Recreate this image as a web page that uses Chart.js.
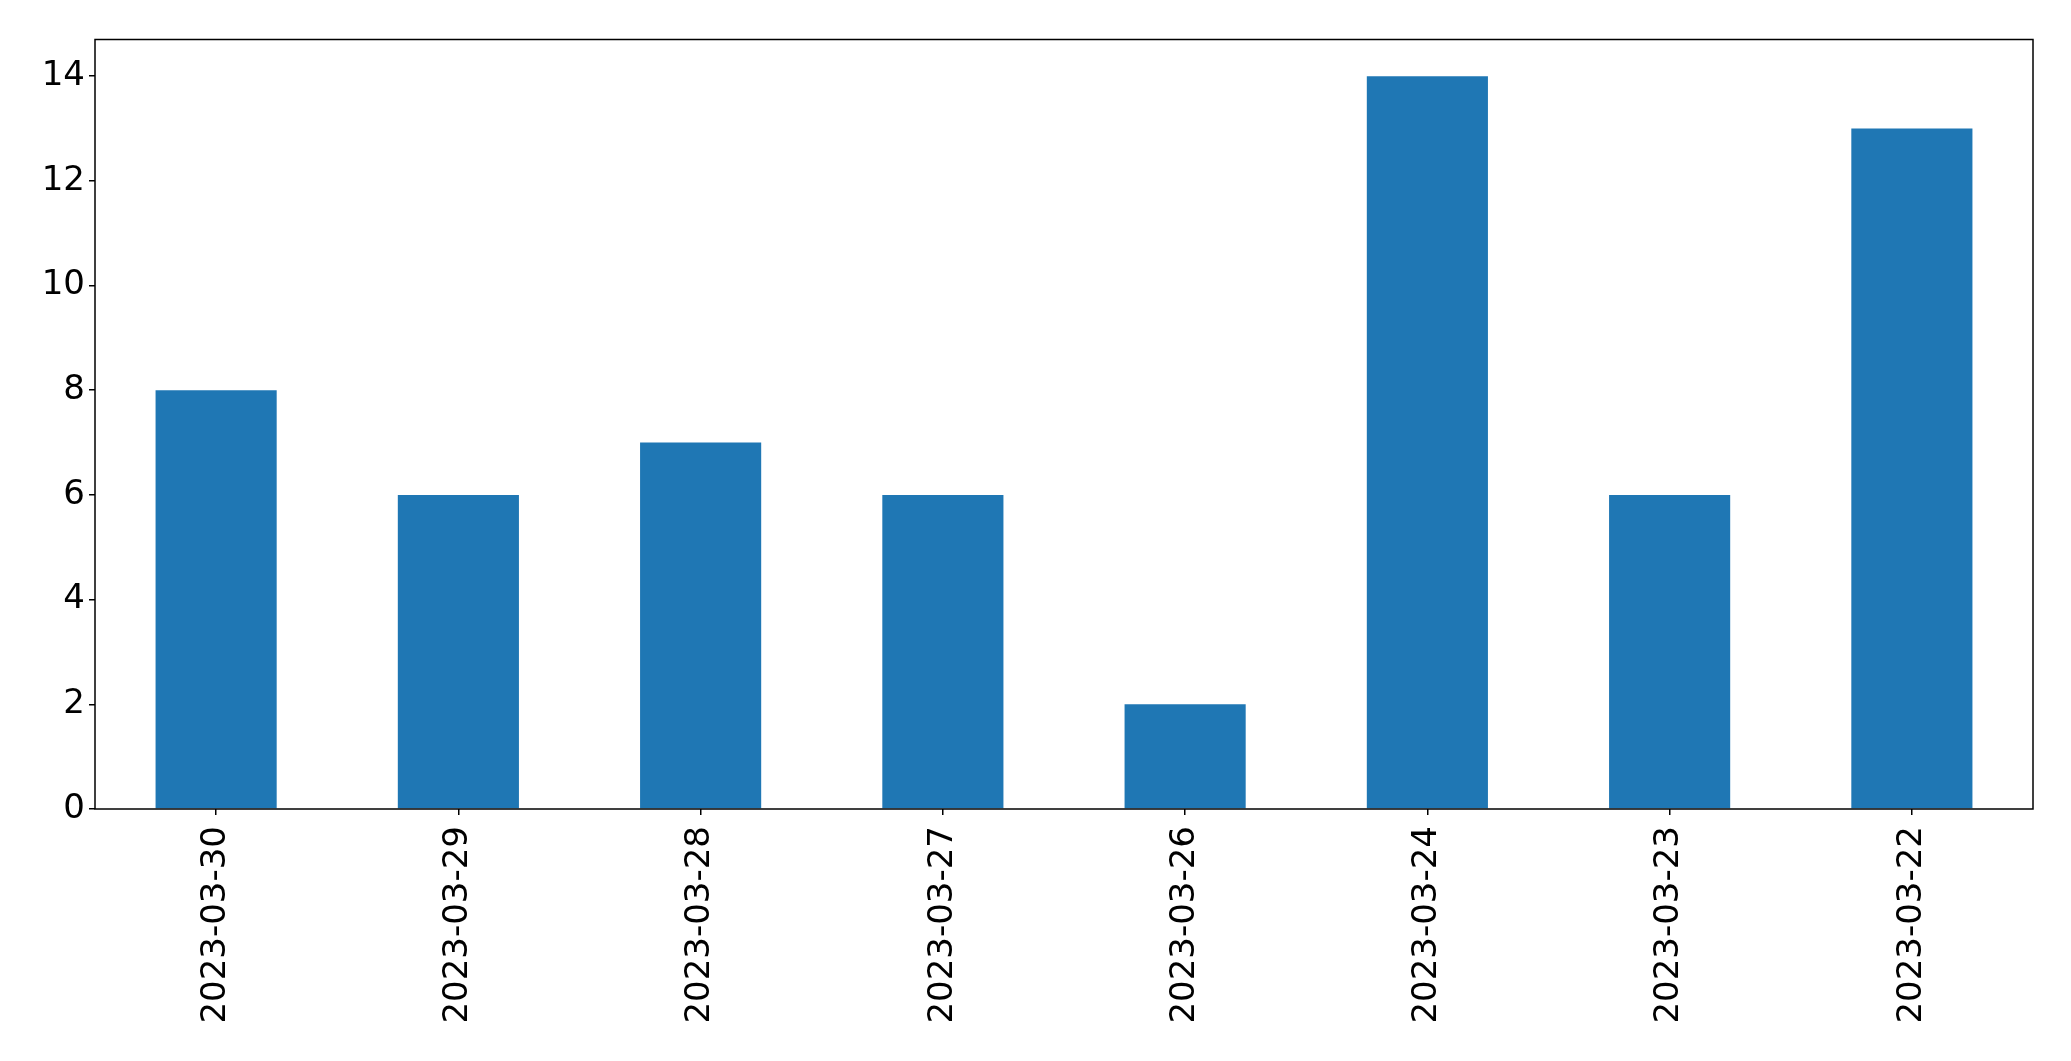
<!DOCTYPE html>
<html>
<head>
<meta charset="utf-8">
<script src="https://cdn.jsdelivr.net/npm/chart.js@4/dist/chart.umd.min.js"></script>
<style>
  html, body { margin: 0; padding: 0; background: #fff; }
  #wrap { width: 2071px; height: 1061px; }
</style>
</head>
<body>
<div id="wrap"><canvas id="myChart" width="2071" height="1061"></canvas></div>
<script>
const dates = ['2023-03-30', '2023-03-29', '2023-03-28', '2023-03-27', '2023-03-26', '2023-03-24', '2023-03-23', '2023-03-22']
const counts = [8, 6, 7, 6, 2, 14, 6, 13]
const yMax = 14.7
const yStep = 2

const barColor = '#1f77b4'
const tickFont = { family: 'DejaVu Sans', size: 34 }

// box around the plot area, like matplotlib spines
const frame = {
    id: 'frame',
    afterDraw(chart) {
        const { ctx, chartArea: a } = chart
        ctx.save()
        ctx.strokeStyle = '#000'
        ctx.lineWidth = 1.5
        ctx.strokeRect(a.left, a.top, a.right - a.left, a.bottom - a.top)
        ctx.restore()
    }
}

const ctx = document.getElementById('myChart')

new Chart(ctx, {
    type: 'bar',
    data: {
        labels: dates,
        datasets: [{
            data: counts,
            backgroundColor: barColor,
            borderWidth: 0,
            categoryPercentage: 1,
            barPercentage: 0.5
        }]
    },
    options: {
        responsive: false,
        animation: false,
        layout: { padding: { left: 0, top: 39.5, right: 38, bottom: 0 } },
        plugins: { legend: { display: false }, tooltip: { enabled: false } },
        scales: {
            x: {
                grid: { offset: false, drawOnChartArea: false, drawTicks: true, tickLength: 6, color: '#000', lineWidth: 1.5 },
                border: { display: false },
                ticks: { color: '#000', font: tickFont, minRotation: 90, maxRotation: 90, autoSkip: false, padding: 11 },
                afterFit(scale) { scale.height = 1061 - 809 }
            },
            y: {
                min: 0,
                max: yMax,
                grid: { drawOnChartArea: false, drawTicks: true, tickLength: 6, color: '#000', lineWidth: 1.5 },
                border: { display: false },
                ticks: { color: '#000', font: tickFont, stepSize: yStep, includeBounds: false, padding: 4 },
                afterFit(scale) { scale.width = 95 }
            }
        }
    },
    plugins: [frame]
})
</script>
</body>
</html>
